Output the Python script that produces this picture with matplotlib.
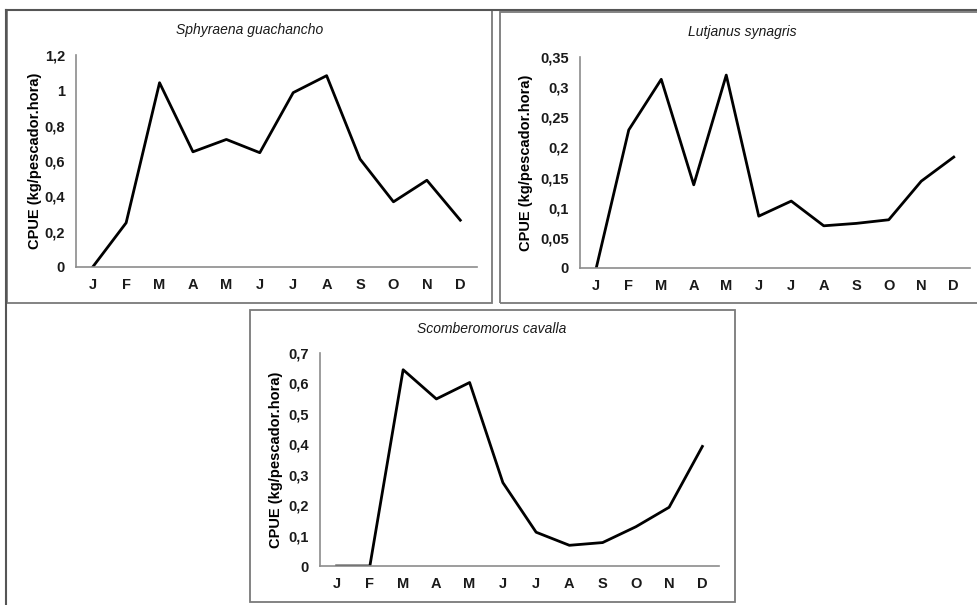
import matplotlib.pyplot as plt
from matplotlib.patches import Rectangle
from matplotlib.lines import Line2D

plt.rcParams['font.family'] = ['Liberation Sans', 'DejaVu Sans']

meses = ['J', 'F', 'M', 'A', 'M', 'J', 'J', 'A', 'S', 'O', 'N', 'D']

# CPUE por especie
sphyraena = [0, 0.25, 1.043, 0.652, 0.722, 0.647, 0.987, 1.083, 0.611, 0.369, 0.491, 0.265]
lutjanus = [0, 0.229, 0.313, 0.138, 0.320, 0.086, 0.111, 0.070, 0.074, 0.080, 0.144, 0.184]
scomberomorus = [0, 0, 0.645, 0.549, 0.603, 0.274, 0.111, 0.068, 0.077, 0.129, 0.193, 0.393]

ticks_sph = [0, 0.2, 0.4, 0.6, 0.8, 1, 1.2]
labels_sph = ['0', '0,2', '0,4', '0,6', '0,8', '1', '1,2']
ticks_lut = [0, 0.05, 0.1, 0.15, 0.2, 0.25, 0.3, 0.35]
labels_lut = ['0', '0,05', '0,1', '0,15', '0,2', '0,25', '0,3', '0,35']
ticks_sco = [0, 0.1, 0.2, 0.3, 0.4, 0.5, 0.6, 0.7]
labels_sco = ['0', '0,1', '0,2', '0,3', '0,4', '0,5', '0,6', '0,7']

W, H = 977, 605
fig = plt.figure(figsize=(W / 100, H / 100), dpi=100)


def px(x0, y0, x1, y1):
    # pixel box -> figure fraction [left, bottom, width, height]
    return [x0 / W, 1 - y1 / H, (x1 - x0) / W, (y1 - y0) / H]


def box(x0, y0, x1, y1, color='#7a7a7a'):
    fig.patches.append(Rectangle((x0 / W, 1 - y1 / H), (x1 - x0) / W, (y1 - y0) / H,
                                 transform=fig.transFigure, fill=False,
                                 edgecolor=color, linewidth=1.3))


# marcos de los paneles
box(7, 10, 492, 303)
box(500, 12, 979, 303)
box(250, 310, 735, 602)
fig.lines.append(Line2D([6 / W, 1], [1 - 10 / H, 1 - 10 / H], transform=fig.transFigure,
                        color='#555555', linewidth=1.5))
fig.lines.append(Line2D([6 / W, 6 / W], [0, 1 - 10 / H], transform=fig.transFigure,
                        color='#555555', linewidth=1.5))


def panel(rect, vals, ticks, labels, titulo, title_xy):
    ax = fig.add_axes(rect)
    ax.plot(range(len(meses)), vals, color='black', linewidth=2.0)
    ax.set_xlim(-0.5, 11.5)
    ax.set_ylim(ticks[0], ticks[-1])
    ax.set_xticks(range(len(meses)))
    ax.set_xticklabels(meses)
    ax.set_yticks(ticks)
    ax.set_yticklabels(labels)
    for s in ['top', 'right']:
        ax.spines[s].set_visible(False)
    for s in ['left', 'bottom']:
        ax.spines[s].set_color('#8c8c8c')
        ax.spines[s].set_linewidth(1.2)
    ax.tick_params(length=0, labelsize=10.5, colors='#1a1a1a', pad=8)
    for t in ax.get_xticklabels() + ax.get_yticklabels():
        t.set_fontweight('bold')
    ax.set_ylabel('CPUE (kg/pescador.hora)', fontsize=10.5, fontweight='bold')
    fig.text(title_xy[0] / W, 1 - title_xy[1] / H, titulo, style='italic',
             fontsize=10, ha='center', va='center', color='#1a1a1a')
    return ax


a1 = panel(px(76, 55, 477, 267), sphyraena, ticks_sph, labels_sph,
           'Sphyraena guachancho', (250, 30))
a1.yaxis.set_label_coords(-0.085, 0.5)
a2 = panel(px(580, 57, 970, 268), lutjanus, ticks_lut, labels_lut,
           'Lutjanus synagris', (742, 32))
a2.yaxis.set_label_coords(-0.12, 0.5)
a3 = panel(px(320, 353, 719, 566), scomberomorus, ticks_sco, labels_sco,
           'Scomberomorus cavalla', (492, 329))
a3.yaxis.set_label_coords(-0.093, 0.5)

fig.savefig('out.png', dpi=100)
